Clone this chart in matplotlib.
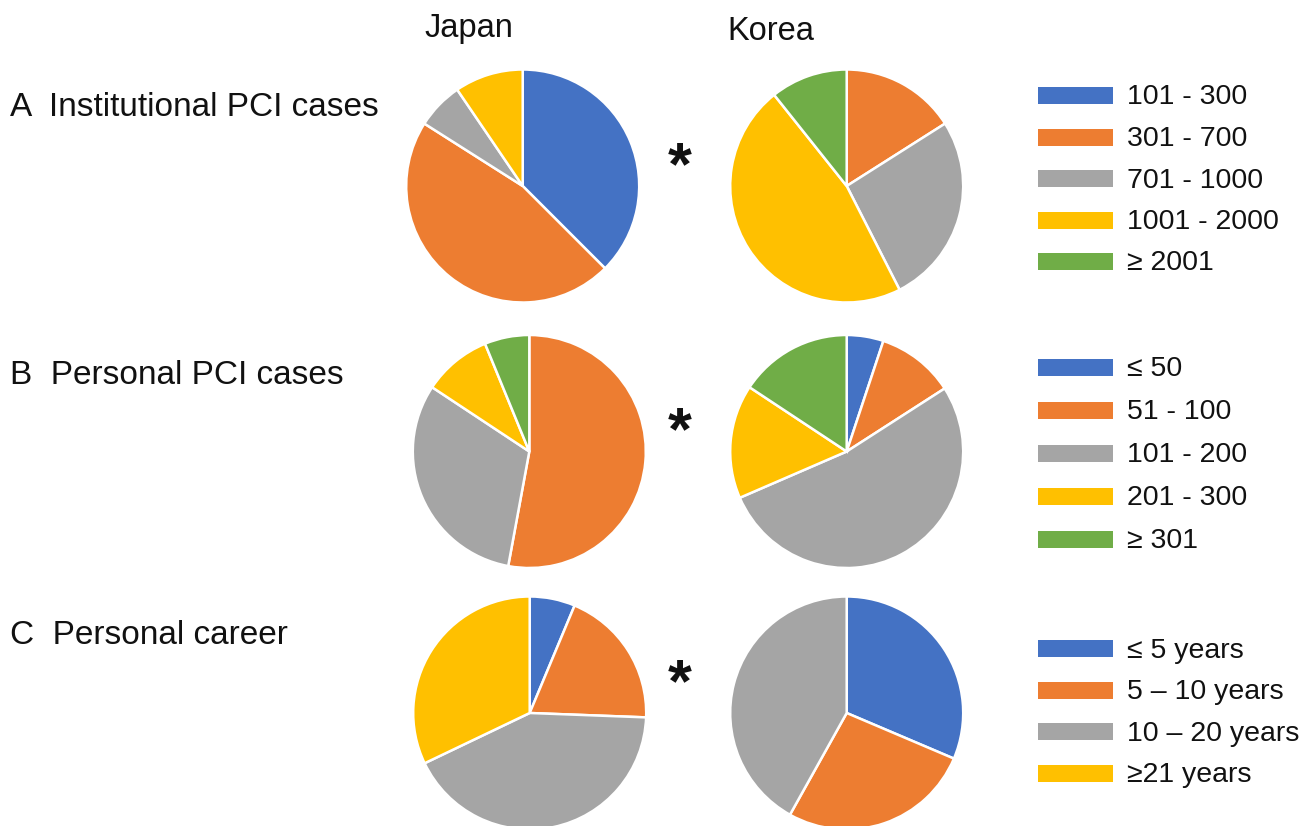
import matplotlib
matplotlib.use("Agg")
import matplotlib.pyplot as plt
from matplotlib.patches import Rectangle

plt.rcParams['font.family'] = ['Liberation Sans', 'DejaVu Sans']

# ---- data (percent shares) ----
countries = ["Japan", "Korea"]

inst_labels = ["101 - 300", "301 - 700", "701 - 1000", "1001 - 2000", "\u2265 2001"]
inst_japan = [37.5, 46.5, 6.5, 9.5, 0.0]
inst_korea = [0.0, 16.0, 26.5, 46.8, 10.7]

pers_labels = ["\u2264 50", "51 - 100", "101 - 200", "201 - 300", "\u2265 301"]
pers_japan = [0.0, 52.9, 31.4, 9.5, 6.2]
pers_korea = [5.1, 10.8, 52.6, 15.8, 15.7]

career_labels = ["\u2264 5 years", "5 \u2013 10 years", "10 \u2013 20 years", "\u226521 years"]
career_japan = [6.3, 19.3, 42.3, 32.1]
career_korea = [31.4, 26.7, 41.9, 0.0]

row_titles = ["A  Institutional PCI cases", "B  Personal PCI cases", "C  Personal career"]

colors = ["#4472C4", "#ED7D31", "#A5A5A5", "#FFC000", "#70AD47"]

W, H = 1306, 826
fig = plt.figure(figsize=(W / 100, H / 100), dpi=100)
fig.patch.set_facecolor("white")

R = 116.5
rows = [
    dict(title=row_titles[0], title_y=107, labels=inst_labels, jp=inst_japan, kr=inst_korea,
         cy=186, jx=522.7, star_y=156, leg_y0=95.5, leg_dy=41.5),
    dict(title=row_titles[1], title_y=376, labels=pers_labels, jp=pers_japan, kr=pers_korea,
         cy=451.5, jx=529.3, star_y=421, leg_y0=367, leg_dy=43.0),
    dict(title=row_titles[2], title_y=635, labels=career_labels, jp=career_japan, kr=career_korea,
         cy=713, jx=529.7, star_y=673, leg_y0=648.5, leg_dy=41.6),
]
KX = 846.7

STAR_PT = 44
STAR_PX = STAR_PT * 100 / 72


def px_to_fig(x, y):
    return x / W, 1 - y / H


def draw_pie(cx, cy, values):
    ax = fig.add_axes([(cx - R) / W, 1 - (cy + R) / H, 2 * R / W, 2 * R / H])
    vals = [v for v in values if v > 0]
    cols = [colors[i] for i, v in enumerate(values) if v > 0]
    ax.pie(vals, colors=cols, startangle=90, counterclock=False, radius=1.0,
           wedgeprops=dict(edgecolor="white", linewidth=1.8))
    ax.set_xlim(-1.0, 1.0)
    ax.set_ylim(-1.0, 1.0)
    ax.set_aspect("equal")
    ax.axis("off")
    return ax


for row in rows:
    draw_pie(row["jx"], row["cy"], row["jp"])
    draw_pie(KX, row["cy"], row["kr"])
    x, y = px_to_fig(10, row["title_y"])
    fig.text(x, y, row["title"], fontsize=24, ha="left", va="center", color="#111111")
    x, y = px_to_fig(680, row["star_y"] + 0.455 * STAR_PX)
    fig.text(x, y, "*", fontsize=STAR_PT, fontweight="bold", ha="center", va="baseline",
             color="#111111")
    for i, lab in enumerate(row["labels"]):
        yc = row["leg_y0"] + i * row["leg_dy"]
        rx, ry = px_to_fig(1038, yc + 8.5)
        fig.patches.append(Rectangle((rx, ry), 75 / W, 17 / H, transform=fig.transFigure,
                                     facecolor=colors[i], edgecolor="none"))
        tx, ty = px_to_fig(1127, yc + 2)
        fig.text(tx, ty, lab, fontsize=20.5, ha="left", va="center", color="#111111")

x, y = px_to_fig(468.5, 29)
fig.text(x, y, countries[0], fontsize=23.5, ha="center", va="center", color="#111111")
x, y = px_to_fig(770.5, 31.5)
fig.text(x, y, countries[1], fontsize=23.5, ha="center", va="center", color="#111111")

fig.savefig("out.png", dpi=100, facecolor="white")
